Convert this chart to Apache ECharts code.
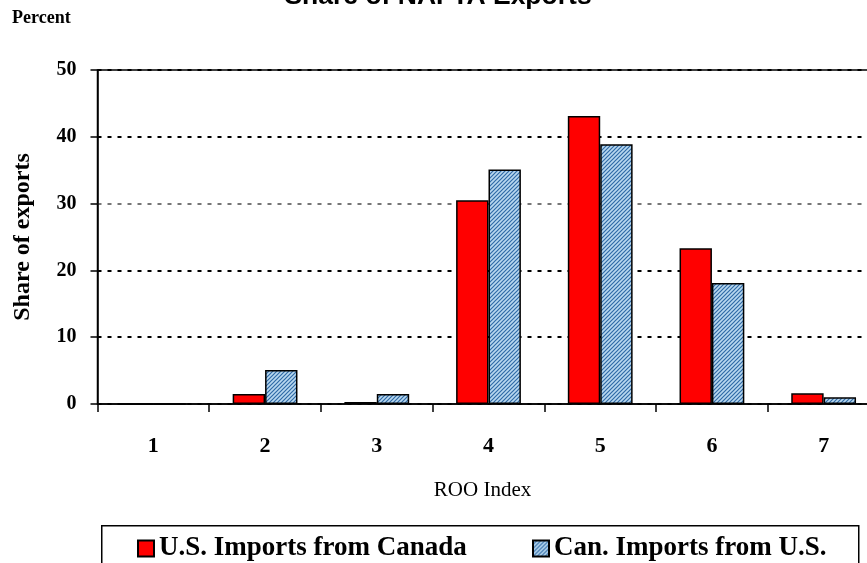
<!DOCTYPE html>
<html>
<head>
<meta charset="utf-8">
<script src="https://cdn.jsdelivr.net/npm/echarts@6/dist/echarts.min.js"></script>
<style>
  html, body { margin: 0; padding: 0; background: #fff; overflow: hidden; }
  /* the plot runs a little past the right edge of the page */
  #chart { width: 880px; height: 563px; }
</style>
</head>
<body>
<div id="chart"></div>
<script>
// ROO index categories and export shares (percent)
const categories = ['1', '2', '3', '4', '5', '6', '7'];
const usImportsFromCanada = [0, 1.5, 0.3, 30.5, 43.1, 23.3, 1.6];
const canImportsFromUS = [0, 5.1, 1.5, 35.1, 38.9, 18.1, 1.0];
const yTicks = [0, 10, 20, 30, 40, 50];

const serif = '"Liberation Serif", "Times New Roman", serif';

// Diagonal hatch fill for the Canadian series
function hatchPattern() {
  const c = document.createElement('canvas');
  c.width = 4; c.height = 4;
  const g = c.getContext('2d');
  g.fillStyle = '#b9d8f0';
  g.fillRect(0, 0, 4, 4);
  g.strokeStyle = '#2f6aa6';
  g.lineWidth = 1.2;
  g.beginPath();
  g.moveTo(-1, 5); g.lineTo(5, -1);
  g.moveTo(-1, 1); g.lineTo(1, -1);
  g.moveTo(3, 5); g.lineTo(5, 3);
  g.stroke();
  return { image: c, repeat: 'repeat' };
}

const chart = echarts.init(document.getElementById('chart'), null, { renderer: 'canvas' });

const legendText = { fontFamily: serif, fontWeight: 'bold', fontSize: 27, color: '#000' };

chart.setOption({
  animation: false,
  backgroundColor: '#fff',
  grid: {
    left: 97.5, right: 0.5, top: 70, bottom: 159,
    show: true, borderColor: '#000', borderWidth: 1.5, backgroundColor: 'transparent'
  },
  xAxis: {
    type: 'category',
    data: categories,
    name: 'ROO Index',
    nameLocation: 'middle',
    nameGap: 76,
    nameTextStyle: { fontFamily: serif, fontWeight: 'normal', fontSize: 21, color: '#000', padding: [0, 12, 0, 0] },
    axisLine: { lineStyle: { color: '#000', width: 1.5 } },
    axisTick: { show: true, length: 8, inside: false, lineStyle: { color: '#000', width: 1.5 } },
    axisLabel: { margin: 31, fontFamily: serif, fontWeight: 'bold', fontSize: 22, color: '#000' }
  },
  yAxis: {
    type: 'value',
    min: yTicks[0],
    max: yTicks[yTicks.length - 1],
    interval: 10,
    name: 'Share of exports',
    nameLocation: 'middle',
    nameRotate: 90,
    nameGap: 63,
    nameTextStyle: { fontFamily: serif, fontWeight: 'bold', fontSize: 24, color: '#000' },
    axisLine: { show: true, lineStyle: { color: '#000', width: 1.5 } },
    axisTick: { show: true, length: 7, inside: false, lineStyle: { color: '#000', width: 1.5 } },
    axisLabel: { margin: 21, fontFamily: serif, fontWeight: 'bold', fontSize: 20, color: '#000' },
    splitLine: {
      show: true,
      lineStyle: {
        color: ['#000', '#000', '#000', '#777', '#000', '#000'],
        width: 2,
        type: [4, 6]
      }
    }
  },
  legend: [
    {
      data: ['U.S. Imports from Canada'],
      left: 137, top: 535, padding: 0,
      itemWidth: 16, itemHeight: 16, itemGap: 0,
      icon: 'rect',
      textStyle: legendText
    },
    {
      data: ['Can. Imports from U.S.'],
      left: 532, top: 535, padding: 0,
      itemWidth: 16, itemHeight: 16, itemGap: 0,
      icon: 'rect',
      textStyle: legendText
    }
  ],
  series: [
    {
      name: 'U.S. Imports from Canada',
      type: 'bar',
      data: usImportsFromCanada,
      barGap: '0%',
      barCategoryGap: '42%',
      itemStyle: { color: '#ff0000', borderColor: '#000', borderWidth: 1.5 }
    },
    {
      name: 'Can. Imports from U.S.',
      type: 'bar',
      data: canImportsFromUS,
      barGap: '0%',
      barCategoryGap: '42%',
      itemStyle: { color: hatchPattern(), borderColor: '#000', borderWidth: 1.5 }
    }
  ],
  graphic: [
    {
      type: 'text', x: 438, y: -17,
      style: { text: 'Share of NAFTA Exports', align: 'center', fontFamily: '"Liberation Sans", Arial, sans-serif', fontWeight: 'bold', fontSize: 26.5, fill: '#000' }
    },
    {
      type: 'text', left: 12, top: 9,
      style: { text: 'Percent', fontFamily: serif, fontWeight: 'bold', fontSize: 18, fill: '#000' }
    },
    {
      type: 'rect', left: 101, top: 525, z: -1,
      shape: { width: 757, height: 60 },
      style: { fill: '#fff', stroke: '#000', lineWidth: 1.5 }
    }
  ]
});
</script>
</body>
</html>
